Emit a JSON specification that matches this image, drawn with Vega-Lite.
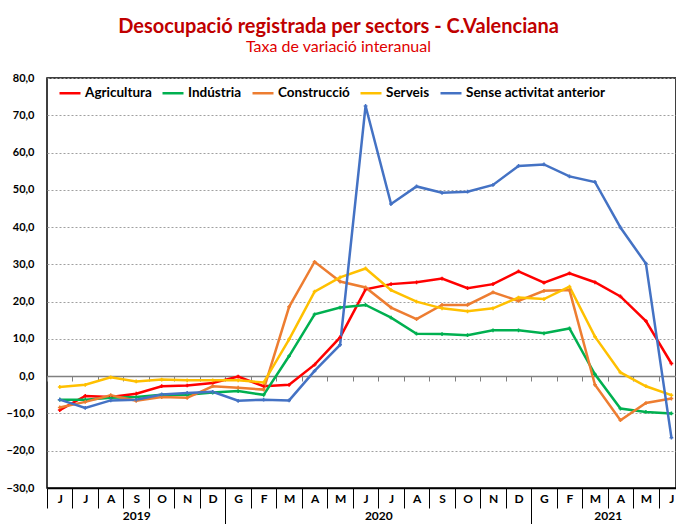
{
  "$schema": "https://vega.github.io/schema/vega-lite/v6.json",
  "autosize": {"type": "none"},
  "width": 629,
  "height": 410,
  "padding": {"left": 47, "top": 78, "right": 0, "bottom": 36},
  "title": {
    "text": "Desocupació registrada per sectors - C.Valenciana",
    "subtitle": "Taxa de variació interanual",
    "font": "Lato",
    "fontSize": 20,
    "fontWeight": "bold",
    "color": "#C00000",
    "subtitleFont": "Lato",
    "subtitleFontSize": 16,
    "subtitleColor": "#E00000",
    "subtitlePadding": 2,
    "anchor": "middle",
    "frame": "group",
    "dx": -23,
    "offset": 17
  },
  "data": {
    "values": [
      {"m":0,"s":"Agricultura","v":-9.1},{"m":1,"s":"Agricultura","v":-5.3},{"m":2,"s":"Agricultura","v":-5.6},{"m":3,"s":"Agricultura","v":-4.7},{"m":4,"s":"Agricultura","v":-2.7},{"m":5,"s":"Agricultura","v":-2.5},{"m":6,"s":"Agricultura","v":-1.8},{"m":7,"s":"Agricultura","v":-0.1},{"m":8,"s":"Agricultura","v":-2.7},{"m":9,"s":"Agricultura","v":-2.3},{"m":10,"s":"Agricultura","v":3.1},{"m":11,"s":"Agricultura","v":10.4},{"m":12,"s":"Agricultura","v":23.3},{"m":13,"s":"Agricultura","v":24.7},{"m":14,"s":"Agricultura","v":25.2},{"m":15,"s":"Agricultura","v":26.2},{"m":16,"s":"Agricultura","v":23.6},{"m":17,"s":"Agricultura","v":24.7},{"m":18,"s":"Agricultura","v":28.1},{"m":19,"s":"Agricultura","v":25.1},{"m":20,"s":"Agricultura","v":27.6},{"m":21,"s":"Agricultura","v":25.2},{"m":22,"s":"Agricultura","v":21.4},{"m":23,"s":"Agricultura","v":14.8},{"m":24,"s":"Agricultura","v":3.4},
      {"m":0,"s":"Indústria","v":-6.3},{"m":1,"s":"Indústria","v":-6.3},{"m":2,"s":"Indústria","v":-5.8},{"m":3,"s":"Indústria","v":-5.6},{"m":4,"s":"Indústria","v":-5.0},{"m":5,"s":"Indústria","v":-5.0},{"m":6,"s":"Indústria","v":-4.4},{"m":7,"s":"Indústria","v":-4.0},{"m":8,"s":"Indústria","v":-5.0},{"m":9,"s":"Indústria","v":5.4},{"m":10,"s":"Indústria","v":16.6},{"m":11,"s":"Indústria","v":18.4},{"m":12,"s":"Indústria","v":19.1},{"m":13,"s":"Indústria","v":15.7},{"m":14,"s":"Indústria","v":11.4},{"m":15,"s":"Indústria","v":11.3},{"m":16,"s":"Indústria","v":11.0},{"m":17,"s":"Indústria","v":12.3},{"m":18,"s":"Indústria","v":12.3},{"m":19,"s":"Indústria","v":11.5},{"m":20,"s":"Indústria","v":12.8},{"m":21,"s":"Indústria","v":0.5},{"m":22,"s":"Indústria","v":-8.7},{"m":23,"s":"Indústria","v":-9.6},{"m":24,"s":"Indústria","v":-10.0},
      {"m":0,"s":"Construcció","v":-8.4},{"m":1,"s":"Construcció","v":-6.9},{"m":2,"s":"Construcció","v":-5.1},{"m":3,"s":"Construcció","v":-6.6},{"m":4,"s":"Construcció","v":-5.6},{"m":5,"s":"Construcció","v":-5.8},{"m":6,"s":"Construcció","v":-2.7},{"m":7,"s":"Construcció","v":-3.1},{"m":8,"s":"Construcció","v":-3.6},{"m":9,"s":"Construcció","v":18.6},{"m":10,"s":"Construcció","v":30.7},{"m":11,"s":"Construcció","v":25.4},{"m":12,"s":"Construcció","v":23.8},{"m":13,"s":"Construcció","v":18.4},{"m":14,"s":"Construcció","v":15.3},{"m":15,"s":"Construcció","v":19.1},{"m":16,"s":"Construcció","v":19.1},{"m":17,"s":"Construcció","v":22.5},{"m":18,"s":"Construcció","v":20.2},{"m":19,"s":"Construcció","v":22.9},{"m":20,"s":"Construcció","v":23.1},{"m":21,"s":"Construcció","v":-2.3},{"m":22,"s":"Construcció","v":-11.8},{"m":23,"s":"Construcció","v":-7.2},{"m":24,"s":"Construcció","v":-6.0},
      {"m":0,"s":"Serveis","v":-2.9},{"m":1,"s":"Serveis","v":-2.3},{"m":2,"s":"Serveis","v":-0.3},{"m":3,"s":"Serveis","v":-1.4},{"m":4,"s":"Serveis","v":-0.9},{"m":5,"s":"Serveis","v":-1.1},{"m":6,"s":"Serveis","v":-1.1},{"m":7,"s":"Serveis","v":-1.1},{"m":8,"s":"Serveis","v":-1.7},{"m":9,"s":"Serveis","v":9.9},{"m":10,"s":"Serveis","v":22.7},{"m":11,"s":"Serveis","v":26.5},{"m":12,"s":"Serveis","v":28.9},{"m":13,"s":"Serveis","v":23.1},{"m":14,"s":"Serveis","v":20.0},{"m":15,"s":"Serveis","v":18.2},{"m":16,"s":"Serveis","v":17.4},{"m":17,"s":"Serveis","v":18.2},{"m":18,"s":"Serveis","v":21.1},{"m":19,"s":"Serveis","v":20.7},{"m":20,"s":"Serveis","v":24.0},{"m":21,"s":"Serveis","v":10.6},{"m":22,"s":"Serveis","v":1.0},{"m":23,"s":"Serveis","v":-2.7},{"m":24,"s":"Serveis","v":-5.1},
      {"m":0,"s":"Sense activitat anterior","v":-6.3},{"m":1,"s":"Sense activitat anterior","v":-8.5},{"m":2,"s":"Sense activitat anterior","v":-6.5},{"m":3,"s":"Sense activitat anterior","v":-6.3},{"m":4,"s":"Sense activitat anterior","v":-4.9},{"m":5,"s":"Sense activitat anterior","v":-4.5},{"m":6,"s":"Sense activitat anterior","v":-4.2},{"m":7,"s":"Sense activitat anterior","v":-6.6},{"m":8,"s":"Sense activitat anterior","v":-6.3},{"m":9,"s":"Sense activitat anterior","v":-6.5},{"m":10,"s":"Sense activitat anterior","v":1.4},{"m":11,"s":"Sense activitat anterior","v":8.4},{"m":12,"s":"Sense activitat anterior","v":72.5},{"m":13,"s":"Sense activitat anterior","v":46.2},{"m":14,"s":"Sense activitat anterior","v":50.9},{"m":15,"s":"Sense activitat anterior","v":49.2},{"m":16,"s":"Sense activitat anterior","v":49.5},{"m":17,"s":"Sense activitat anterior","v":51.3},{"m":18,"s":"Sense activitat anterior","v":56.4},{"m":19,"s":"Sense activitat anterior","v":56.8},{"m":20,"s":"Sense activitat anterior","v":53.6},{"m":21,"s":"Sense activitat anterior","v":52.1},{"m":22,"s":"Sense activitat anterior","v":39.9},{"m":23,"s":"Sense activitat anterior","v":30.2},{"m":24,"s":"Sense activitat anterior","v":-16.5}
    ]
  },
  "encoding": {
    "x": {
      "field": "m", "type": "quantitative",
      "scale": {"domain": [-0.5, 24.18], "nice": false, "zero": false},
      "axis": {
        "orient": "bottom",
        "title": null,
        "grid": false,
        "values": [-0.5,0,0.5,1,1.5,2,2.5,3,3.001,3.5,4,4.5,5,5.5,6,6.5,7,7.5,8,8.5,9,9.5,10,10.5,11,11.5,12,12.5,13,13.5,14,14.5,15,15.5,16,16.5,17,17.5,18,18.5,19,19.5,20,20.5,21,21.5,22,22.5,23,23.5,24],
        "labelExpr": "datum.value == 3.001 ? '2019' : datum.value == 12.5 ? '2020' : datum.value == 21.5 ? '2021' : (datum.value == floor(datum.value) ? ['J','J','A','S','O','N','D','G','F','M','A','M','J','J','A','S','O','N','D','G','F','M','A','M','J'][datum.value] : '')",
        "labelOverlap": false,
        "labelFlush": false,
        "labelBound": false,
        "labelFont": "Lato",
        "labelFontSize": 12,
        "labelFontWeight": "bold",
        "labelColor": "black",
        "labelBaseline": "middle",
        "labelPadding": {"condition": {"test": "datum.value == 3.001 || datum.value == 12.5 || datum.value == 21.5", "value": 7}, "value": -10},
        "domainColor": "black",
        "domainWidth": 1.5,
        "tickColor": {"condition": {"test": "datum.value == floor(datum.value) || datum.value == 3.001", "value": "transparent"}, "value": "black"},
        "tickSize": {"condition": {"test": "datum.value == 6.5 || datum.value == 18.5", "value": 40}, "value": 20},
        "tickWidth": 1
      }
    },
    "y": {
      "field": "v", "type": "quantitative",
      "scale": {"domain": [-30, 80], "nice": false, "zero": false},
      "axis": {
        "title": null,
        "values": [-30,-20,-10,0,10,20,30,40,50,60,70,80],
        "labelExpr": "replace(format(datum.value, '.1f'), '.', ',')",
        "grid": true,
        "gridDash": [2, 2],
        "gridColor": "#a0a0a0",
        "gridWidth": 1,
        "ticks": false,
        "domain": false,
        "labelFont": "Lato",
        "labelFontSize": 11,
        "labelFontWeight": "bold",
        "labelColor": "black",
        "labelPadding": 13
      }
    },
    "color": {
      "field": "s", "type": "nominal",
      "scale": {
        "domain": ["Agricultura", "Indústria", "Construcció", "Serveis", "Sense activitat anterior"],
        "range": ["#FF0000", "#00B050", "#ED7D31", "#FFC000", "#4472C4"]
      },
      "legend": {
        "orient": "none",
        "legendX": 11,
        "legendY": 3,
        "direction": "horizontal",
        "title": null,
        "padding": 0,
        "symbolType": "stroke",
        "symbolSize": 441,
        "symbolStrokeWidth": 2.5,
        "labelFont": "Lato",
        "labelFontSize": 13.5,
        "labelFontWeight": "bold",
        "labelColor": "black",
        "labelOffset": 3,
        "columnPadding": 5
      }
    }
  },
  "layer": [
    {
      "mark": {"type": "line", "strokeWidth": 2.5}
    },
    {
      "mark": {"type": "point", "shape": "cross", "size": 14, "filled": true, "opacity": 1},
      "encoding": {
        "x": {
          "field": "m", "type": "quantitative",
          "scale": {"domain": [-0.5, 24.18], "nice": false, "zero": false},
          "axis": {
            "orient": "top",
            "offset": -298,
            "title": null,
            "grid": false,
            "labels": false,
            "values": [-0.5,0.5,1.5,2.5,3.5,4.5,5.5,6.5,7.5,8.5,9.5,10.5,11.5,12.5,13.5,14.5,15.5,16.5,17.5,18.5,19.5,20.5,21.5,22.5,23.5],
            "domainColor": "#808080",
            "domainWidth": 1.5,
            "tickColor": "#808080",
            "tickWidth": 1,
            "tickSize": -5
          }
        }
      }
    }
  ],
  "resolve": {"axis": {"x": "independent"}},
  "config": {
    "font": "Lato",
    "view": {"stroke": "black", "strokeWidth": 1.5}
  }
}
